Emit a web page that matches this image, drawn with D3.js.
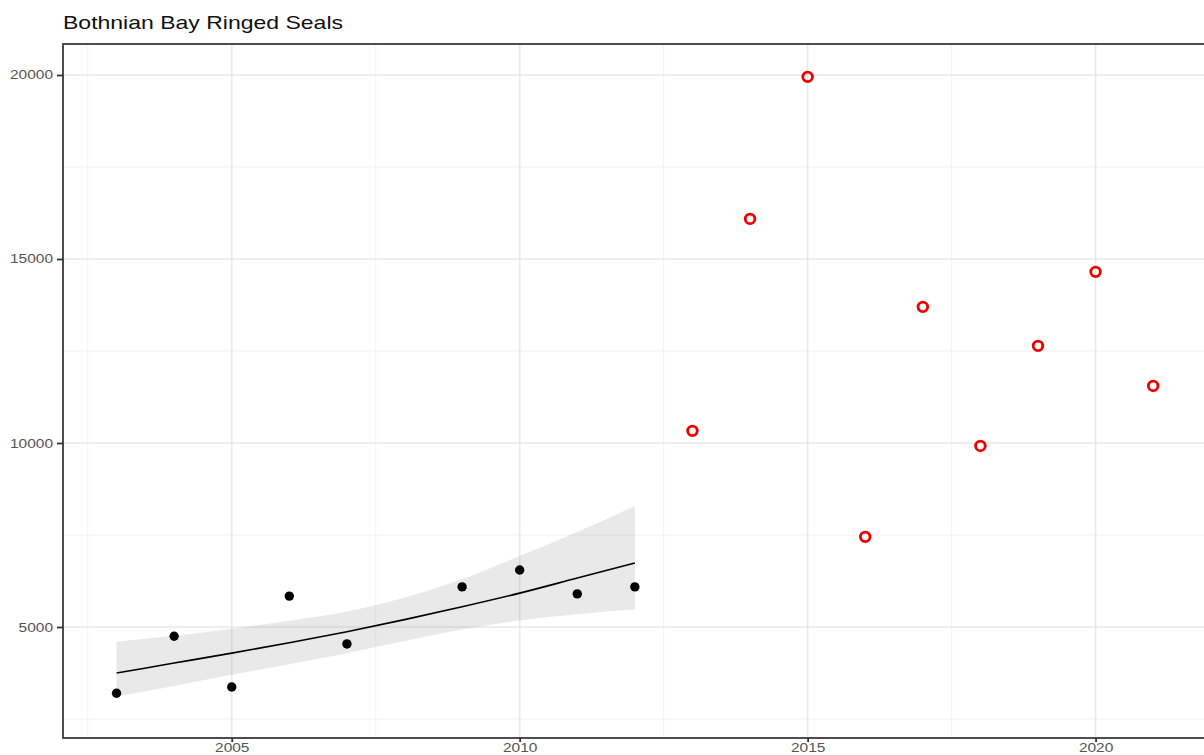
<!DOCTYPE html>
<html>
<head>
<meta charset="utf-8">
<script src="https://cdn.jsdelivr.net/npm/d3@7"></script>
<style>
  body { margin: 0; background: #fff; }
  svg { display: block; font-family: "Liberation Sans", Arial, sans-serif; }
</style>
</head>
<body>
<div id="container"></div>
<script>
let w = 1204;
let h = 755;

// observed counts before 2013 (black dots)
let pastYears = [2003, 2004, 2005, 2006, 2007, 2009, 2010, 2011, 2012];
let pastCounts = [3200, 4750, 3370, 5840, 4540, 6090, 6550, 5900, 6090];

// later counts (red rings)
let newYears = [2013, 2014, 2015, 2016, 2017, 2018, 2019, 2020, 2021];
let newCounts = [10330, 16090, 19950, 7450, 13700, 9920, 12640, 14650, 11550];

// fitted trend and its confidence band
let fitYears = [2003, 2004, 2005, 2006, 2007, 2008, 2009, 2010, 2011, 2012];
let fitMid = [3750, 4020, 4290, 4570, 4870, 5200, 5550, 5920, 6330, 6740];
let fitUpper = [4600, 4760, 4950, 5170, 5420, 5800, 6300, 6930, 7580, 8290];
let fitLower = [3110, 3400, 3700, 3990, 4290, 4620, 4930, 5180, 5350, 5480];

let xTicks = [2005, 2010, 2015, 2020];
let xMinor = [2002.5, 2007.5, 2012.5, 2017.5];
let yTicks = [5000, 10000, 15000, 20000];
let yMinor = [2500, 7500, 12500, 17500];

let pLeft = 63, pTop = 44, pBottom = 738, pRight = 1205;

let viz = d3.select("#container")
  .append("svg")
  .attr("width", w)
  .attr("height", h);

let x = d3.scaleLinear().domain([2002.07, 2021.9]).range([pLeft, pRight]);
let y = d3.scaleLinear().domain([1984, 20842]).range([pBottom, pTop]);

// grid
let grid = viz.append("g");
grid.selectAll(".xminor").data(xMinor).enter().append("line")
  .attr("x1", d => x(d)).attr("x2", d => x(d))
  .attr("y1", pTop).attr("y2", pBottom)
  .attr("stroke", "#efefef").attr("stroke-width", 0.8);
grid.selectAll(".yminor").data(yMinor).enter().append("line")
  .attr("x1", pLeft).attr("x2", pRight)
  .attr("y1", d => y(d)).attr("y2", d => y(d))
  .attr("stroke", "#efefef").attr("stroke-width", 0.8);
grid.selectAll(".xmajor").data(xTicks).enter().append("line")
  .attr("x1", d => x(d)).attr("x2", d => x(d))
  .attr("y1", pTop).attr("y2", pBottom)
  .attr("stroke", "#e8e8e8").attr("stroke-width", 1.6);
grid.selectAll(".ymajor").data(yTicks).enter().append("line")
  .attr("x1", pLeft).attr("x2", pRight)
  .attr("y1", d => y(d)).attr("y2", d => y(d))
  .attr("stroke", "#e8e8e8").attr("stroke-width", 1.6);

// confidence band
let band = fitYears.map((d, i) => ({year: d, lo: fitLower[i], hi: fitUpper[i], mid: fitMid[i]}));
let area = d3.area()
  .x(d => x(d.year))
  .y0(d => y(d.lo))
  .y1(d => y(d.hi))
  .curve(d3.curveMonotoneX);
viz.append("path")
  .datum(band)
  .attr("d", area)
  .attr("fill", "#999999")
  .attr("opacity", 0.22);

let line = d3.line()
  .x(d => x(d.year))
  .y(d => y(d.mid))
  .curve(d3.curveMonotoneX);
viz.append("path")
  .datum(band)
  .attr("d", line)
  .attr("fill", "none")
  .attr("stroke", "#000")
  .attr("stroke-width", 1.6);

// points
viz.selectAll(".past").data(pastYears).enter().append("circle")
  .attr("cx", d => x(d))
  .attr("cy", (d, i) => y(pastCounts[i]))
  .attr("r", 4.7)
  .attr("fill", "#000");

viz.selectAll(".new").data(newYears).enter().append("circle")
  .attr("cx", d => x(d))
  .attr("cy", (d, i) => y(newCounts[i]))
  .attr("r", 4.8)
  .attr("fill", "none")
  .attr("stroke", "#ee0000")
  .attr("stroke-width", 2.8);

// panel border
viz.append("rect")
  .attr("x", pLeft).attr("y", pTop)
  .attr("width", pRight - pLeft).attr("height", pBottom - pTop)
  .attr("fill", "none")
  .attr("stroke", "#3a3a3a")
  .attr("stroke-width", 1.8);

// axes
let xAxis = viz.append("g")
  .attr("transform", `translate(0,${pBottom})`)
  .call(d3.axisBottom(x).tickValues(xTicks).tickFormat(d3.format("d")).tickSize(4).tickPadding(1));
let yAxis = viz.append("g")
  .attr("transform", `translate(${pLeft},0)`)
  .call(d3.axisLeft(y).tickValues(yTicks).tickFormat(d3.format("d")).tickSize(6).tickPadding(4));

// the picture's text is a little stretched sideways, so the labels get a fixed width
[xAxis, yAxis].forEach(a => {
  a.select(".domain").remove();
  a.selectAll(".tick line").attr("stroke", "#333").attr("stroke-width", 1.8);
  a.selectAll(".tick text")
    .attr("fill", "#555")
    .style("font-size", "12.5px")
    .style("font-family", "'Liberation Sans', Arial, sans-serif")
    .attr("textLength", d => String(d).length * 8.6)
    .attr("lengthAdjust", "spacingAndGlyphs");
});

// title
viz.append("text")
  .attr("x", 63)
  .attr("y", 29)
  .attr("fill", "#111")
  .style("font-size", "18.5px")
  .attr("textLength", 280)
  .attr("lengthAdjust", "spacingAndGlyphs")
  .text("Bothnian Bay Ringed Seals");
</script>
</body>
</html>
